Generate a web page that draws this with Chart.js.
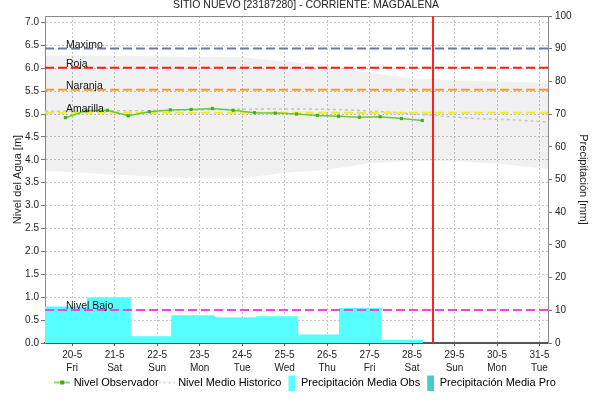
<!DOCTYPE html>
<html>
<head>
<meta charset="utf-8">
<script src="https://cdn.jsdelivr.net/npm/chart.js@4.4.1/dist/chart.umd.min.js"></script>
<style>
    html, body { margin: 0; padding: 0; background: #fff; }
</style>
</head>
<body>
<canvas id="chart" width="612" height="402"></canvas>
<script>
    // eje x: dias desde 20-5 (0 = 20-5)
    var dateLabels = ['20-5', '21-5', '22-5', '23-5', '24-5', '25-5', '26-5', '27-5', '28-5', '29-5', '30-5', '31-5'];
    var dayNames = ['Fri', 'Sat', 'Sun', 'Mon', 'Tue', 'Wed', 'Thu', 'Fri', 'Sat', 'Sun', 'Mon', 'Tue'];

    // nivel observado [m]
    var obsDays = [-0.16, 0.33, 0.83, 1.32, 1.82, 2.31, 2.80, 3.30, 3.79, 4.29, 4.78, 5.28, 5.77, 6.27, 6.76, 7.25, 7.75, 8.24];
    var obsLevel = [4.92, 5.07, 5.08, 4.96, 5.05, 5.09, 5.10, 5.12, 5.08, 5.03, 5.02, 5.00, 4.97, 4.95, 4.93, 4.94, 4.90, 4.86];

    // nivel medio historico [m]
    var histDays = [-0.64, 0.5, 1.5, 2.5, 3.5, 4.5, 5.5, 6.5, 7.5, 8.5, 9.5, 10.5, 11.2];
    var histLevel = [5.06, 5.07, 5.07, 5.08, 5.10, 5.11, 5.11, 5.09, 5.04, 4.97, 4.90, 4.87, 4.82];

    // banda historica (min / max) [m]
    var bandDays = [-0.64, 0.66, 2, 3, 4, 5, 6, 7, 8, 9, 10, 11.2];
    var bandLow = [3.76, 3.69, 3.63, 3.60, 3.60, 3.72, 3.78, 3.93, 3.97, 3.97, 3.92, 3.80];
    var bandHigh = [6.28, 6.27, 6.26, 6.25, 6.24, 6.15, 6.06, 5.90, 5.78, 5.73, 5.71, 5.69];

    // precipitacion media observada [mm], inicio de cada periodo
    var precipStart = [-0.64, 0.35, 1.38, 2.33, 3.36, 4.33, 5.32, 6.28, 7.28];
    var precipEnd = 8.26;
    var precipObs = [11.2, 14.0, 2.1, 8.5, 7.9, 8.2, 2.6, 10.7, 1.0];

    // umbrales [m]
    var thresholdNames = ['Maximo', 'Roja', 'Naranja', 'Amarilla', 'Nivel Bajo'];
    var thresholdValues = [6.43, 6.01, 5.53, 5.03, 0.72];
    var thresholdColors = ['#6a79a8', '#ff1a1a', '#ff9922', '#eeee22', '#ee44ee'];

    var X_MIN = -0.64, X_MAX = 11.2;
    var LEVEL_MAX = 7.14, PRECIP_MAX = 100;
    var nowDay = 8.5;

    var FONT = '"Liberation Sans", Arial, sans-serif';

    var pts = function (xs, ys) {
        return xs.map(function (x, i) { return {x: x, y: ys[i]}; });
    };

    var precipPoints = pts(precipStart, precipObs);
    precipPoints.push({x: precipEnd, y: 0});

    // iconos de la leyenda
    var legendIcon = function (kind, color) {
        var c = document.createElement('canvas');
        var g;
        if (kind === 'obs' || kind === 'hist') {
            c.width = 16; c.height = 16;
            g = c.getContext('2d');
            g.strokeStyle = color; g.lineWidth = 1.5;
            if (kind === 'hist') g.setLineDash([2, 3]);
            g.beginPath(); g.moveTo(0, 8); g.lineTo(16, 8); g.stroke();
            if (kind === 'obs') { g.fillStyle = '#3fae1c'; g.fillRect(6, 6, 4, 4); }
        } else {
            c.width = 12; c.height = 16;
            g = c.getContext('2d');
            g.fillStyle = color; g.fillRect(5, 1, 7, 15);
        }
        return c;
    };

    var datasets = [{
        label: 'Nivel Observador',
        data: pts(obsDays, obsLevel),
        yAxisID: 'y',
        borderColor: '#66cc33',
        borderWidth: 1.5,
        pointStyle: 'rect',
        pointRadius: 2.2,
        pointBackgroundColor: '#3fae1c',
        pointBorderWidth: 0,
        order: 1
    }, {
        label: 'Nivel Medio Historico',
        data: pts(histDays, histLevel),
        yAxisID: 'y',
        borderColor: '#c4c4c4',
        borderWidth: 1.5,
        borderDash: [3, 3],
        pointRadius: 0,
        order: 3
    }, {
        label: 'Precipitación Media Obs',
        data: precipPoints,
        yAxisID: 'y1',
        stepped: 'before',
        fill: 'origin',
        backgroundColor: '#55ffff',
        borderWidth: 0,
        pointRadius: 0,
        order: 5
    }, {
        label: 'Precipitación Media Pro',
        data: [],
        yAxisID: 'y1',
        stepped: 'before',
        fill: 'origin',
        backgroundColor: '#44cccc',
        borderWidth: 0,
        pointRadius: 0,
        order: 5
    }, {
        label: 'min',
        data: pts(bandDays, bandLow),
        yAxisID: 'y',
        borderWidth: 0,
        pointRadius: 0,
        fill: false,
        order: 6
    }, {
        label: 'max',
        data: pts(bandDays, bandHigh),
        yAxisID: 'y',
        borderWidth: 0,
        pointRadius: 0,
        fill: '-1',
        backgroundColor: 'rgba(0, 0, 0, 0.06)',
        order: 6
    }];

    thresholdValues.forEach(function (v, i) {
        datasets.push({
            label: thresholdNames[i],
            data: [{x: X_MIN, y: v}, {x: X_MAX, y: v}],
            yAxisID: 'y',
            borderColor: thresholdColors[i],
            borderWidth: 2,
            borderDash: [9, 4],
            pointRadius: 0,
            order: 2
        });
    });

    var legendItems = [
        {text: 'Nivel Observador', icon: legendIcon('obs', '#66cc33'), ds: 0},
        {text: 'Nivel Medio Historico', icon: legendIcon('hist', '#c4c4c4'), ds: 1},
        {text: 'Precipitación Media Obs', icon: legendIcon('box', '#55ffff'), ds: 2},
        {text: 'Precipitación Media Pro', icon: legendIcon('box', '#44cccc'), ds: 3}
    ];

    // marco superior, linea de "ahora" y nombres de umbrales
    var overlay = {
        id: 'overlay',
        afterDatasetsDraw: function (chart) {
            var ctx = chart.ctx, area = chart.chartArea;
            var xs = chart.scales.x, ys = chart.scales.y;
            ctx.save();
            ctx.strokeStyle = '#8a8a8a';
            ctx.lineWidth = 1;
            ctx.beginPath();
            ctx.moveTo(area.left, area.top + 0.5);
            ctx.lineTo(area.right, area.top + 0.5);
            ctx.stroke();

            var nx = Math.round(xs.getPixelForValue(nowDay));
            ctx.fillStyle = '#ff2020';
            ctx.fillRect(nx - 1, area.top, 2, area.bottom - area.top);

            ctx.font = '10.5px ' + FONT;
            ctx.fillStyle = '#111';
            ctx.textAlign = 'left';
            ctx.textBaseline = 'alphabetic';
            thresholdNames.forEach(function (name, i) {
                ctx.fillText(name, area.left + 21, ys.getPixelForValue(thresholdValues[i]) - 1);
            });
            ctx.restore();
        }
    };

    window.onload = function () {
        var ctx = document.getElementById('chart').getContext('2d');
        window.myChart = new Chart(ctx, {
            type: 'line',
            data: {datasets: datasets},
            plugins: [overlay],
            options: {
                responsive: false,
                animation: false,
                layout: {padding: {top: 0, left: 0, right: 0, bottom: 4}},
                plugins: {
                    title: {
                        display: true,
                        text: 'SITIO NUEVO [23187280] - CORRIENTE: MAGDALENA',
                        color: '#222',
                        font: {family: FONT, size: 10.5, weight: 'normal', lineHeight: 1},
                        padding: {top: 0, bottom: 5.5}
                    },
                    legend: {
                        position: 'bottom',
                        labels: {
                            usePointStyle: true,
                            pointStyleWidth: 12,
                            padding: 2,
                            color: '#333',
                            font: {family: FONT, size: 11},
                            generateLabels: function () {
                                return legendItems.map(function (it) {
                                    return {
                                        text: it.text,
                                        pointStyle: it.icon,
                                        fillStyle: 'transparent',
                                        strokeStyle: 'transparent',
                                        lineWidth: 0,
                                        hidden: false,
                                        datasetIndex: it.ds
                                    };
                                });
                            }
                        }
                    },
                    tooltip: {enabled: false}
                },
                scales: {
                    x: {
                        type: 'linear',
                        min: X_MIN,
                        max: X_MAX,
                        afterBuildTicks: function (scale) {
                            scale.ticks = dateLabels.map(function (d, i) { return {value: i}; });
                        },
                        afterFit: function (scale) { scale.height = 32; },
                        ticks: {
                            autoSkip: false,
                            maxRotation: 0,
                            padding: 2,
                            color: '#222',
                            font: {family: FONT, size: 10, lineHeight: 1.35},
                            callback: function (v, i) { return [dateLabels[i], dayNames[i]]; }
                        },
                        grid: {color: '#c8c8c8', tickLength: 3, tickColor: '#555'},
                        border: {color: '#555', width: 2, dash: [2, 2]}
                    },
                    y: {
                        position: 'left',
                        min: 0,
                        max: LEVEL_MAX,
                        afterFit: function (scale) { scale.width = 45; },
                        ticks: {
                            stepSize: 0.5,
                            includeBounds: false,
                            padding: 2,
                            color: '#222',
                            font: {family: FONT, size: 10},
                            callback: function (v) { return v.toFixed(1); }
                        },
                        grid: {color: '#c8c8c8', tickLength: 4, tickColor: '#777'},
                        border: {color: '#8a8a8a', width: 1, dash: [2, 2]},
                        title: {
                            display: true,
                            text: 'Nivel del Agua [m]',
                            color: '#222',
                            font: {family: FONT, size: 11},
                            padding: {top: 11, bottom: 0}
                        }
                    },
                    y1: {
                        position: 'right',
                        min: 0,
                        max: PRECIP_MAX,
                        afterFit: function (scale) { scale.width = 64; },
                        ticks: {
                            stepSize: 10,
                            padding: 3,
                            color: '#222',
                            font: {family: FONT, size: 10}
                        },
                        grid: {drawOnChartArea: false, tickLength: 4, tickColor: '#777'},
                        border: {color: '#8a8a8a', width: 1},
                        title: {
                            display: true,
                            text: 'Precipitación [mm]',
                            color: '#222',
                            font: {family: FONT, size: 11},
                            padding: {top: 22, bottom: 0}
                        }
                    }
                }
            }
        });
    };
</script>
</body>
</html>
